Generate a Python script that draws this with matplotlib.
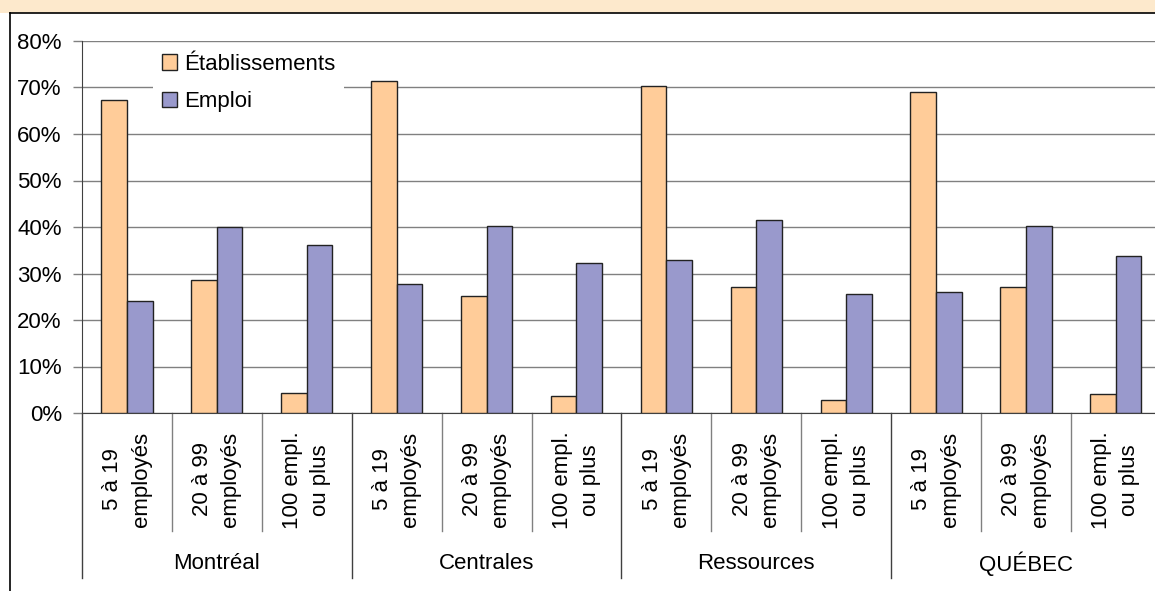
import numpy as np
import matplotlib
matplotlib.use("Agg")
import matplotlib.pyplot as plt
from matplotlib.patches import Rectangle
from matplotlib.lines import Line2D

plt.rcParams["font.family"] = ["Liberation Sans", "DejaVu Sans"]

regions = ["Montréal", "Centrales", "Ressources", "QUÉBEC"]
sizes = ["5 à 19\nemployés", "20 à 99\nemployés", "100 empl.\nou plus"]
etablissements = [67.3, 28.5, 4.3, 71.3, 25.1, 3.7, 70.4, 27.1, 2.7, 69.0, 27.1, 4.0]
emploi = [24.1, 40.0, 36.2, 27.8, 40.3, 32.2, 32.8, 41.6, 25.5, 26.1, 40.3, 33.8]

C_ETAB = "#FFCC99"
C_EMPL = "#9999CC"
GRID = "#808080"
FS = 16

fig = plt.figure(figsize=(11.55, 5.91), dpi=100)
W, H = 1155, 591

# peach header band and chart border
fig.patches.append(Rectangle((0, 1 - 13 / H), 1, 13 / H, transform=fig.transFigure,
                             facecolor="#FDE9CC", edgecolor="none", zorder=0))
fig.add_artist(Line2D([10 / W, 10 / W], [0, 1 - 13 / H], color="black", lw=1.2))
fig.add_artist(Line2D([10 / W, 1], [1 - 13 / H, 1 - 13 / H], color="black", lw=1.2))

ax = fig.add_axes([82 / W, 1 - 413 / H, 1078.8 / W, 372 / H])
n = len(etablissements)
x = np.arange(n)
bw = 0.285
ax.bar(x - bw / 2, np.array(etablissements) / 100, bw, color=C_ETAB, edgecolor="#222222",
       linewidth=1.0, label="Établissements", zorder=3)
ax.bar(x + bw / 2, np.array(emploi) / 100, bw, color=C_EMPL, edgecolor="#222222",
       linewidth=1.0, label="Emploi", zorder=3)

ax.set_xlim(-0.5, n - 0.5)
ax.set_ylim(0, 0.8)
yt = np.arange(0, 0.81, 0.1)
ax.set_yticks(yt)
ax.set_yticklabels([f"{int(round(v * 100))}%" for v in yt], fontsize=FS)
ax.yaxis.grid(True, color=GRID, lw=1.0, zorder=0)
ax.tick_params(axis="y", direction="out", length=6.5, width=1.0, color=GRID, pad=8)
ax.set_xticks([])
for s in ["top", "right"]:
    ax.spines[s].set_visible(False)
ax.spines["left"].set_color("#404040")
ax.spines["bottom"].set_color("#404040")

# category separators and labels below the axis
tr = ax.get_xaxis_transform()
for i in range(n + 1):
    long = i % 3 == 0
    ax.plot([i - 0.5, i - 0.5], [0, -0.444 if long else -0.317], transform=tr,
            color="#404040" if long else GRID, lw=1.0, clip_on=False)
for i in range(n):
    ax.text(i, -0.05, sizes[i % 3], transform=tr, rotation=90, ha="center", va="top",
            multialignment="center", fontsize=FS, linespacing=1.45)
for g, name in enumerate(regions):
    ax.text(3 * g + 1, -0.405, name, transform=tr, ha="center", va="center", fontsize=FS)

leg = ax.legend(loc="upper left", bbox_to_anchor=(71 / 1078.8, 0.99), fontsize=FS,
                frameon=True, fancybox=False, framealpha=1, edgecolor="none",
                handlelength=0.7, handleheight=0.7, handletextpad=0.3,
                borderaxespad=0, borderpad=0.4, labelspacing=0.75)
for h in leg.legend_handles:
    h.set_linewidth(1.0)

fig.savefig("out.png", dpi=100)
